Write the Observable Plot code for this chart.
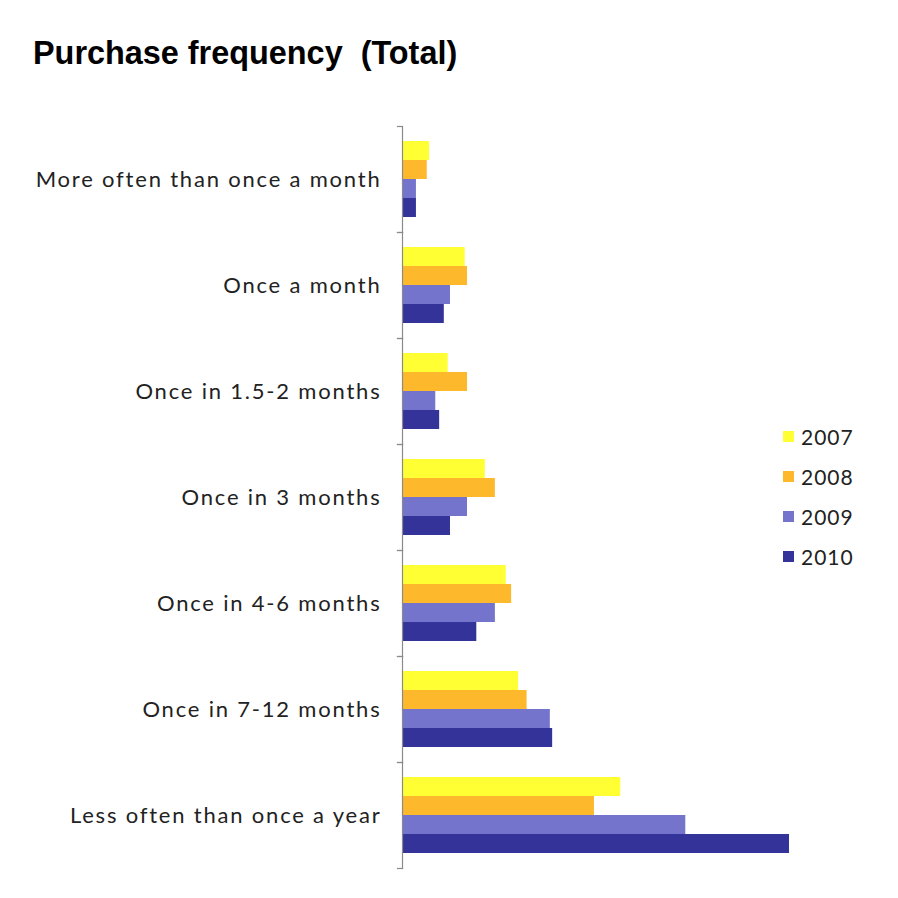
<!DOCTYPE html>
<html>
<head>
<meta charset="utf-8">
<script src="https://cdn.jsdelivr.net/npm/d3@7"></script>
<script src="https://cdn.jsdelivr.net/npm/@observablehq/plot@0.6"></script>
<style>
  html, body { margin: 0; padding: 0; background: #fff; }
  #wrap { position: relative; width: 898px; height: 898px; overflow: hidden; }
  #title { position: absolute; left: 33px; top: 35px; font-family: "Liberation Sans", Arial, sans-serif; font-weight: bold; font-size: 32.4px; line-height: 37px; color: #000; white-space: pre; z-index: 2; }
  #chart { position: absolute; left: 0; top: 0; }
  #chart svg text { letter-spacing: 1.8px; }
  #legend { position: absolute; left: 783px; top: 416px; font-family: Lato, sans-serif; font-size: 21px; color: #222; }
  #legend .item { height: 40px; display: flex; align-items: center; letter-spacing: 1px; }
  #legend .sw { width: 11px; height: 11px; margin-right: 7px; }
</style>
</head>
<body>
<div id="wrap">
  <div id="title">Purchase frequency  (Total)</div>
  <div id="chart"></div>
  <div id="legend"></div>
</div>
<script>
const categories = [
  "More often than once a month",
  "Once a month",
  "Once in 1.5-2 months",
  "Once in 3 months",
  "Once in 4-6 months",
  "Once in 7-12 months",
  "Less often than once a year"
];
const years = ["2007", "2008", "2009", "2010"];
const v2007 = [3.5, 8.1, 5.9, 10.7, 13.4, 15.0, 28.2];
const v2008 = [3.2, 8.4, 8.4, 12.0, 14.1, 16.1, 24.8];
const v2009 = [1.8, 6.2, 4.3, 8.4, 12.0, 19.1, 36.6];
const v2010 = [1.8, 5.4, 4.8, 6.2, 9.6, 19.4, 50.0];
const colors = ["#FFFF33", "#FDB92B", "#7474CD", "#333399"];

const series = [v2007, v2008, v2009, v2010];
const data = [];
categories.forEach((c, i) => {
  years.forEach((y, j) => data.push({category: c, year: y, value: series[j][i]}));
});

const W = 898, H = 898;
const mL = 402, mR = 109, mT = 126, mB = 30;
const innerW = W - mL - mR;

const chart = Plot.plot({
  width: W,
  height: H,
  marginLeft: mL,
  marginRight: mR,
  marginTop: mT,
  marginBottom: mB,
  style: {fontFamily: "Lato, sans-serif", fontSize: "22px", background: "transparent", letterSpacing: "1.8px"},
  x: {domain: [0, 50], axis: null},
  y: {domain: years, paddingInner: 0, paddingOuter: 0.753, axis: null},
  fy: {domain: categories, paddingInner: 0, paddingOuter: 0, label: null, axis: null},
  color: {domain: years, range: colors},
  marks: [
    Plot.barX(data, {fy: "category", y: "year", x: "value", fill: "year"}),
    Plot.frame({anchor: "left", stroke: "#8a8a8a", strokeWidth: 1.2}),
    Plot.frame({anchor: "top", stroke: "#8a8a8a", strokeWidth: 1.2, insetLeft: -5, insetRight: innerW}),
    Plot.frame({anchor: "bottom", stroke: "#8a8a8a", strokeWidth: 1.2, insetLeft: -5, insetRight: innerW}),
    Plot.axisFy({anchor: "left", tickSize: 0, tickPadding: 21, label: null, fill: "#222", fontSize: 22})
  ]
});
document.getElementById("chart").appendChild(chart);

const legend = document.getElementById("legend");
years.forEach((y, j) => {
  const item = document.createElement("div");
  item.className = "item";
  const sw = document.createElement("div");
  sw.className = "sw";
  sw.style.background = colors[j];
  item.appendChild(sw);
  item.appendChild(document.createTextNode(y));
  legend.appendChild(item);
});
</script>
</body>
</html>
